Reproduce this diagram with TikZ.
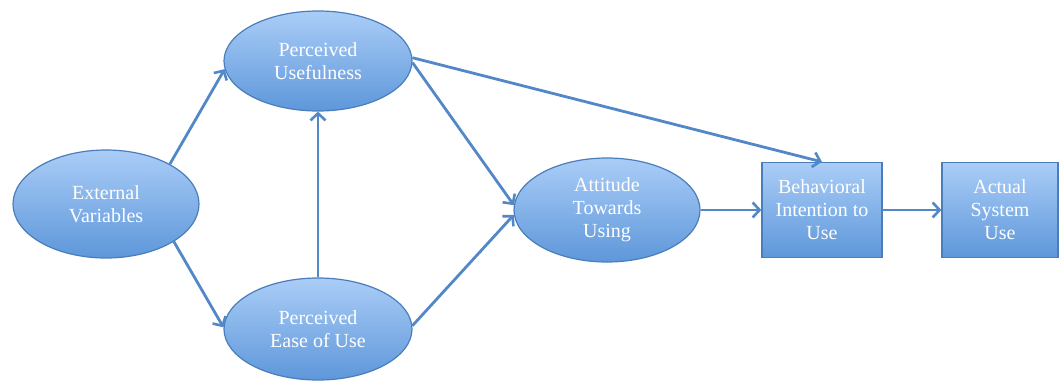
\documentclass[tikz,border=0pt]{standalone}
\usepackage{fontspec}
\setmainfont{Liberation Serif}
\usetikzlibrary{shapes.geometric,arrows.meta}

\definecolor{filltop}{HTML}{AACDF7}
\definecolor{fillbot}{HTML}{5E97DA}
\definecolor{edgeblue}{HTML}{4A7EBB}
\definecolor{linkblue}{HTML}{5388C8}

\tikzset{
  concept/.style={
    ellipse, draw=edgeblue, line width=1.2pt,
    top color=filltop, bottom color=fillbot,
    text=white, align=center, inner sep=0pt,
    font=\fontsize{20}{23}\selectfont
  },
  stage/.style={
    rectangle, draw=edgeblue, line width=1.2pt,
    top color=filltop, bottom color=fillbot,
    text=white, align=center, inner sep=0pt,
    font=\fontsize{20}{23}\selectfont
  },
  link/.style={
    draw=linkblue, line width=2.8pt,
    -{Straight Barb[length=7pt,width=15pt,line width=2.6pt]}
  }
}

\begin{document}
\begin{tikzpicture}[x=1pt,y=-1pt]
  \useasboundingbox (0,0) rectangle (1059,385);

  % model constructs
  \node[concept, minimum width=186pt, minimum height=108pt] (ev)  at (106,204) {External\\Variables};
  \node[concept, minimum width=188pt, minimum height=100pt] (pu)  at (318,61)  {Perceived\\Usefulness};
  \node[concept, minimum width=188pt, minimum height=102pt] (peu) at (318,329) {Perceived\\Ease of Use};
  \node[concept, minimum width=186pt, minimum height=104pt] (atu) at (607,210) {Attitude\\Towards\\Using};
  \node[stage, minimum width=120pt, minimum height=95pt] (bi)  at (822,210) {Behavioral\\Intention to\\Use};
  \node[stage, minimum width=116pt, minimum height=95pt] (asu) at (1000,210) {Actual\\System\\Use};

  % causal paths
  \draw[link] (ev.32)  -- (pu.185);
  \draw[link] (ev.-29) -- (peu.179);
  \draw[link] (peu.north) -- (pu.south);
  \draw[link] (pu.-1)  -- (atu.177);
  \draw[link] (peu.2)  -- (atu.183);
  \draw[link] (pu.2)   -- (bi.north);
  \draw[link] (atu.east) -- (bi.west);
  \draw[link] (bi.east)  -- (asu.west);
\end{tikzpicture}
\end{document}
